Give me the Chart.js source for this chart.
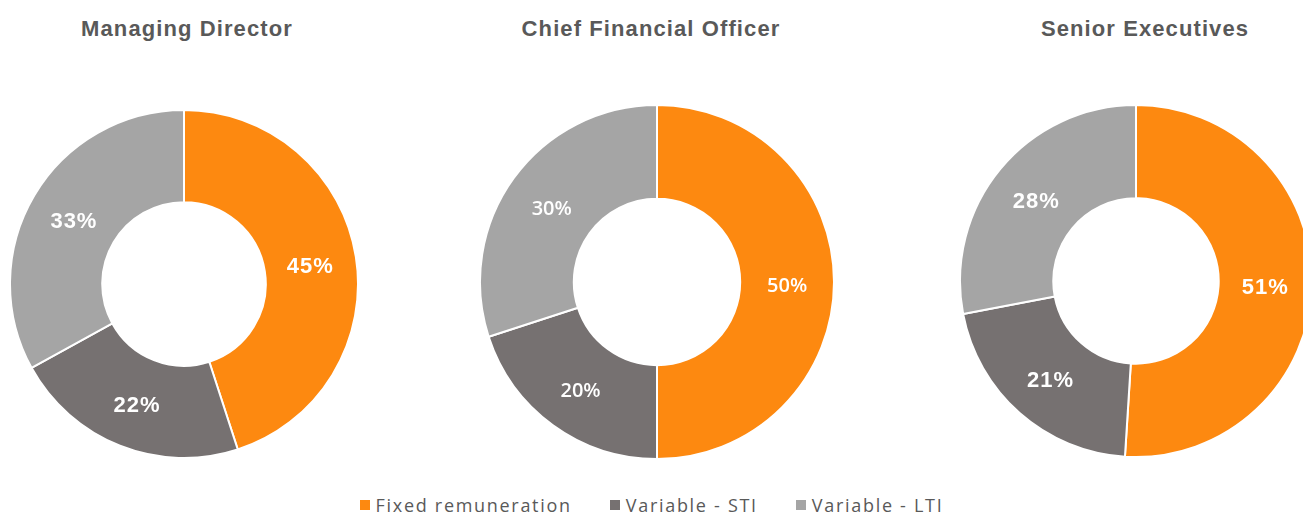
<!DOCTYPE html>
<html>
<head>
<meta charset="utf-8">
<script src="https://cdn.jsdelivr.net/npm/chart.js@4"></script>
<style>
  html, body { margin: 0; padding: 0; background: #fff; }
  body { width: 1303px; height: 515px; position: relative; overflow: hidden; }
  .title {
    position: absolute; top: 16px; transform: translateX(-50%);
    font-family: "Liberation Sans", Arial, sans-serif; font-weight: bold;
    font-size: 22px; letter-spacing: 1.1px; color: #595959; white-space: nowrap;
  }
  .box { position: absolute; }
  #legenda {
    position: absolute; top: 493px; left: 0; width: 1303px;
    display: flex; justify-content: center;
    font-family: "Open Sans", sans-serif; font-size: 18px; letter-spacing: 1.7px;
    color: #595959;
  }
  .item { display: flex; align-items: center; margin: 0 19px; }
  .item span.sq { width: 10px; height: 10px; margin-right: 6px; display: inline-block; }
</style>
</head>
<body>
<div id="titulos"></div>
<div class="box" id="caja0" style="left:9px; top:109px; width:350px; height:350px;"><canvas id="grafica0"></canvas></div>
<div class="box" id="caja1" style="left:479px; top:104px; width:356px; height:356px;"><canvas id="grafica1"></canvas></div>
<div class="box" id="caja2" style="left:959px; top:104px; width:354px; height:354px;"><canvas id="grafica2"></canvas></div>
<div id="legenda"></div>
<script>
// datos
const categorias = ['Fixed remuneration', 'Variable - STI', 'Variable - LTI'];
const roles = ['Managing Director', 'Chief Financial Officer', 'Senior Executives'];
const datosMD = [45, 22, 33];
const datosCFO = [50, 20, 30];
const datosSenior = [51, 21, 28];
const colores = ['#FD8910', '#767171', '#A5A5A5'];

const series = [datosMD, datosCFO, datosSenior];
const centrosTitulo = [187, 651, 1145];
// el gráfico del medio usa otra fuente para las etiquetas
const fuentesEtiqueta = [
    'bold 22px "Liberation Sans", Arial, sans-serif',
    '600 20px "Open Sans", sans-serif',
    'bold 22px "Liberation Sans", Arial, sans-serif'
];

// titulos
roles.forEach((rol, i) => {
    const div = document.createElement('div');
    div.className = 'title';
    div.style.left = centrosTitulo[i] + 'px';
    div.textContent = rol;
    document.getElementById('titulos').appendChild(div);
});

// leyenda
categorias.forEach((cat, i) => {
    const item = document.createElement('div');
    item.className = 'item';
    item.innerHTML = '<span class="sq" style="background:' + colores[i] + '"></span>' + cat;
    document.getElementById('legenda').appendChild(item);
});

// etiquetas dentro de cada porción
const etiquetasPlugin = {
    id: 'etiquetas',
    afterDatasetsDraw(chart) {
        const ctx = chart.ctx;
        const meta = chart.getDatasetMeta(0);
        const datos = chart.data.datasets[0].data;
        const opts = chart.options.plugins.etiquetas;
        ctx.save();
        ctx.fillStyle = '#ffffff';
        ctx.textAlign = 'center';
        ctx.textBaseline = 'middle';
        ctx.font = opts.font;
        ctx.letterSpacing = opts.espacio;
        meta.data.forEach((arco, i) => {
            const pos = arco.tooltipPosition();
            ctx.fillText(datos[i] + '%', pos.x, pos.y + opts.bajar);
        });
        ctx.restore();
    }
};

series.forEach((datos, i) => {
    const ctx = document.getElementById('grafica' + i).getContext('2d');
    new Chart(ctx, {
        type: 'doughnut',
        data: {
            labels: categorias,
            datasets: [{
                data: datos,
                backgroundColor: colores,
                borderColor: '#ffffff',
                borderWidth: 2,
                hoverOffset: 0,
                offset: 0
            }]
        },
        options: {
            responsive: true,
            maintainAspectRatio: false,
            animation: false,
            cutout: '47%',
            layout: { padding: 0 },
            plugins: {
                legend: { display: false },
                tooltip: { enabled: false },
                etiquetas: {
                    font: fuentesEtiqueta[i],
                    espacio: i === 1 ? '0px' : '1px',
                    bajar: i === 1 ? 4 : 3
                }
            }
        },
        plugins: [etiquetasPlugin]
    });
});
</script>
</body>
</html>
